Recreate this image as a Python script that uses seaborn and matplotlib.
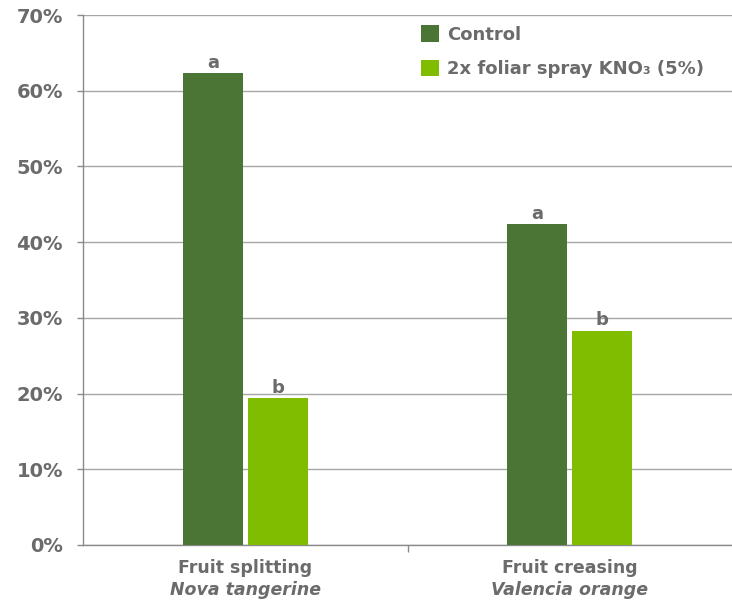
import matplotlib
matplotlib.use("Agg")
import matplotlib.pyplot as plt
import seaborn as sns
import pandas as pd

categories = ["Fruit splitting\nNova tangerine", "Fruit creasing\nValencia orange"]
cat_line1 = ["Fruit splitting", "Fruit creasing"]
cat_line2 = ["Nova tangerine", "Valencia orange"]
treatments = ["Control", "2x foliar spray KNO\u2083 (5%)"]
control_vals = [62.3, 42.4]
kno3_vals = [19.4, 28.3]
letters_control = ["a", "a"]
letters_kno3 = ["b", "b"]
yticks = [0, 10, 20, 30, 40, 50, 60, 70]

sns.set_theme(style="white")
plt.rcParams['font.family'] = ['DejaVu Sans']

rows = []
for i, c in enumerate(categories):
    rows.append({"cat": c, "trt": treatments[0], "val": control_vals[i]})
    rows.append({"cat": c, "trt": treatments[1], "val": kno3_vals[i]})
df = pd.DataFrame(rows)

gray = "#6b6b6b"
fig = plt.figure(figsize=(7.32, 6.03), dpi=100)
ax = fig.add_axes([0.1134, 0.0962, 0.8866, 0.8789])
sns.barplot(data=df, x="cat", y="val", hue="trt", order=categories, hue_order=treatments,
            palette=["#4a7535", "#80bc00"], width=0.4, gap=0.08, ax=ax, errorbar=None,
            saturation=1, zorder=3, linewidth=0)
ax.set_xlim(-0.5, 1.5)
ax.set_ylim(0, 70)
ax.set_yticks(yticks)
ax.set_yticklabels([f"{v}%" for v in yticks], fontsize=14, fontweight="bold", color=gray)
ax.yaxis.grid(True, color="#a6a6a6", linewidth=1, zorder=0)
ax.set_axisbelow(True)
for s in ["top", "right"]:
    ax.spines[s].set_visible(False)
for s in ["left", "bottom"]:
    ax.spines[s].set_color("#8a8a8a")
    ax.spines[s].set_linewidth(1)
ax.tick_params(axis="y", length=4.5, width=1, color="#8a8a8a", pad=10, left=True)
ax.set_xticks([0, 1])
ax.set_xticklabels(["", ""])
ax.tick_params(axis="x", which="major", length=0)
ax.set_xticks([0.5], minor=True)
ax.tick_params(axis="x", which="minor", length=5, width=1, color="#8a8a8a", bottom=True)
ax.set_xlabel("")
ax.set_ylabel("")

for i in range(2):
    ax.annotate(cat_line1[i], (i, 0), xytext=(0, -10), textcoords="offset points",
                ha="center", va="top", fontsize=12.5, fontweight="bold", color=gray,
                annotation_clip=False)
    ax.annotate(cat_line2[i], (i, 0), xytext=(0, -26), textcoords="offset points",
                ha="center", va="top", fontsize=12.5, fontweight="bold", fontstyle="italic",
                color=gray, annotation_clip=False)

conts = ax.containers
ax.bar_label(conts[0], labels=letters_control, padding=1, fontsize=13, fontweight="bold", color=gray)
ax.bar_label(conts[1], labels=letters_kno3, padding=1, fontsize=13, fontweight="bold", color=gray)

leg = ax.legend(loc="upper left", bbox_to_anchor=(0.495, 1.011), frameon=False,
                prop={"size": 13, "weight": "bold"}, handlelength=1.0, handleheight=1.0,
                handletextpad=0.45, labelspacing=0.9)
for t in leg.get_texts():
    t.set_color(gray)

fig.savefig("out.png", dpi=100)
